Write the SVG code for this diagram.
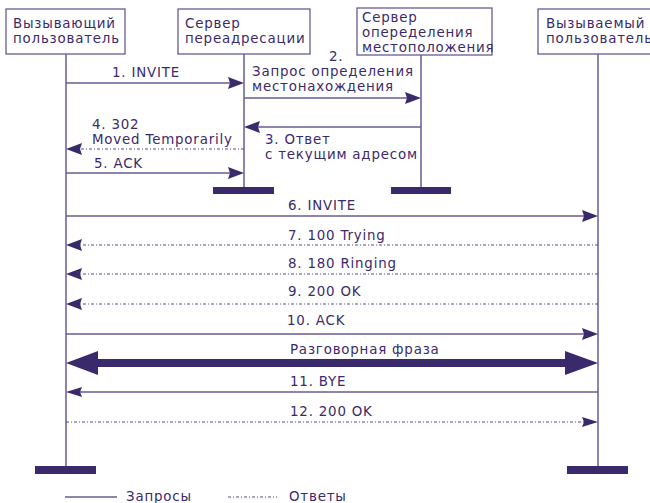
<svg xmlns="http://www.w3.org/2000/svg" width="650" height="503" viewBox="0 0 650 503">
<style>
text{font-family:"DejaVu Sans","Liberation Sans",sans-serif;font-size:13.4px;fill:#3b2a6b;letter-spacing:0.8px}
.box{fill:#fff;stroke:#6a5a96;stroke-width:1.3}
.life{stroke:#6a5a96;stroke-width:1.5;fill:none}
.bar{fill:#3b2a6b}
.req{stroke:#6a5a96;stroke-width:1.5;fill:none}
.resp{stroke:#5a4a88;stroke-width:1.2;fill:none;stroke-dasharray:3 2 1 2}
.head{fill:#3b2a6b}
</style>
<rect width="650" height="503" fill="#fff"/>
<g id="caller">
<rect class="box" x="6" y="9" width="119" height="45"/>
<text x="13" y="28">Вызывающий</text>
<text x="13" y="43">пользователь</text>
<line class="life" x1="66" y1="54" x2="66" y2="467"/>
<rect class="bar" x="35" y="466" width="61" height="8"/>
</g>
<g id="redirect">
<rect class="box" x="178" y="9" width="132" height="45"/>
<text x="185" y="28">Сервер</text>
<text x="185" y="43">переадресации</text>
<line class="life" x1="244" y1="54" x2="244" y2="188"/>
<rect class="bar" x="213" y="187" width="61" height="7"/>
</g>
<g id="location">
<rect class="box" x="357" y="8" width="135" height="47"/>
<text x="362" y="22">Сервер</text>
<text x="362" y="37">опеределения</text>
<text x="362" y="52">местоположения</text>
<line class="life" x1="421" y1="55" x2="421" y2="188"/>
<rect class="bar" x="391" y="187" width="60" height="7"/>
</g>
<g id="callee">
<rect class="box" x="538" y="9" width="120" height="45"/>
<text x="546" y="28">Вызываемый</text>
<text x="546" y="43">пользователь</text>
<line class="life" x1="598" y1="54" x2="598" y2="467"/>
<rect class="bar" x="567" y="466" width="61" height="8"/>
</g>
<g id="connectors">
<line class="req" x1="66" y1="83" x2="232" y2="83"/>
<path class="head" d="M244,83 L228,77 L230,83 L228,89 Z"/>
<text x="112" y="77">1. INVITE</text>
<line class="req" x1="244" y1="98" x2="410" y2="98"/>
<path class="head" d="M421,98 L405,92 L407,98 L405,104 Z"/>
<text x="329" y="61">2.</text>
<text x="252" y="76">Запрос определения</text>
<text x="252" y="91">местонахождения</text>
<line class="req" x1="421" y1="127" x2="255" y2="127"/>
<path class="head" d="M244,127 L260,121 L258,127 L260,133 Z"/>
<text x="265" y="144">3. Ответ</text>
<text x="265" y="159">с текущим адресом</text>
<line class="resp" x1="244" y1="149" x2="78" y2="149"/>
<path class="head" d="M66,149 L82,143 L80,149 L82,155 Z"/>
<text x="92" y="129">4. 302</text>
<text x="92" y="144">Moved Temporarily</text>
<line class="req" x1="66" y1="173" x2="232" y2="173"/>
<path class="head" d="M244,173 L228,167 L230,173 L228,179 Z"/>
<text x="94" y="168">5. ACK</text>
<line class="req" x1="66" y1="216" x2="586" y2="216"/>
<path class="head" d="M598,216 L582,210 L584,216 L582,222 Z"/>
<text x="288" y="210">6. INVITE</text>
<line class="resp" x1="598" y1="245" x2="78" y2="245"/>
<path class="head" d="M66,245 L82,239 L80,245 L82,251 Z"/>
<text x="288" y="240">7. 100 Trying</text>
<line class="resp" x1="598" y1="274" x2="78" y2="274"/>
<path class="head" d="M66,274 L82,268 L80,274 L82,280 Z"/>
<text x="288" y="268">8. 180 Ringing</text>
<line class="resp" x1="598" y1="304" x2="78" y2="304"/>
<path class="head" d="M66,304 L82,298 L80,304 L82,310 Z"/>
<text x="288" y="296">9. 200 OK</text>
<line class="req" x1="66" y1="334" x2="586" y2="334"/>
<path class="head" d="M598,334 L582,328 L584,334 L582,340 Z"/>
<text x="287" y="325">10. ACK</text>
<rect class="head" x="96" y="359" width="471" height="8"/>
<path class="head" d="M66,363 L98,351 L98,375 Z"/>
<path class="head" d="M598,363 L565,351 L565,375 Z"/>
<text x="290" y="354">Разговорная фраза</text>
<line class="req" x1="598" y1="392" x2="78" y2="392"/>
<path class="head" d="M66,392 L82,387 L80,392 L82,397 Z"/>
<text x="290" y="386">11. BYE</text>
<line class="resp" x1="66" y1="422" x2="586" y2="422"/>
<path class="head" d="M598,422 L582,417 L584,422 L582,427 Z"/>
<text x="290" y="416">12. 200 OK</text>
</g>
<g id="legend">
<line class="req" x1="65" y1="497" x2="117" y2="497"/>
<text x="126" y="501">Запросы</text>
<line class="resp" x1="228" y1="497" x2="277" y2="497"/>
<text x="289" y="501">Ответы</text>
</g>
</svg>
